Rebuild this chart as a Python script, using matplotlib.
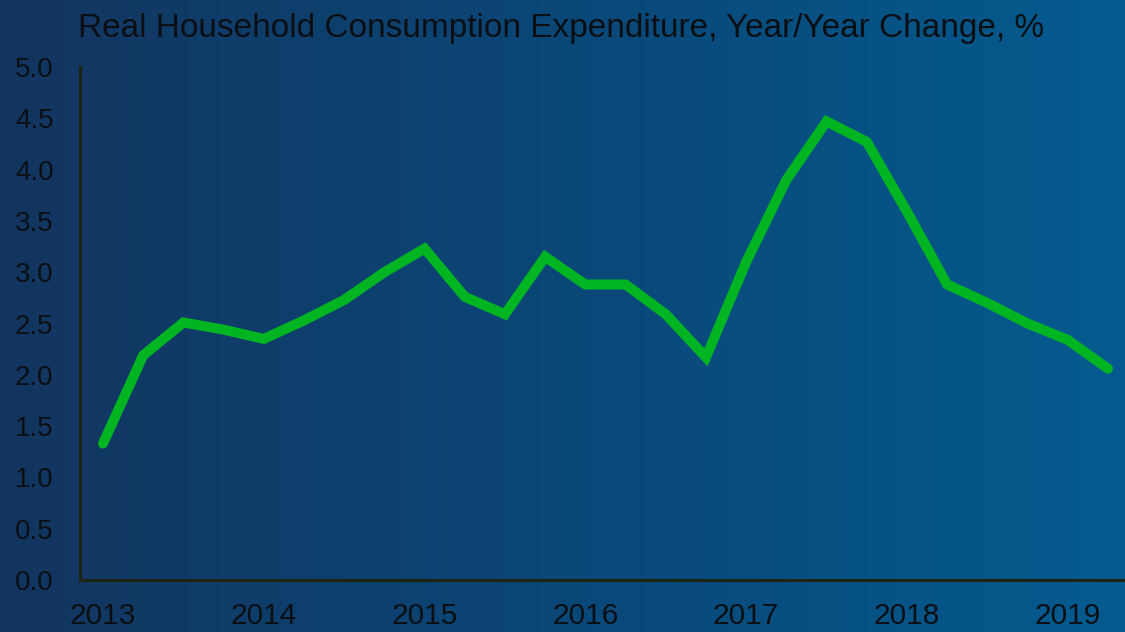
import numpy as np
import pandas as pd
import matplotlib
matplotlib.use("Agg")
import matplotlib.pyplot as plt
from matplotlib.colors import LinearSegmentedColormap

# Quarterly data, 2013Q1 .. 2019Q2
quarters = pd.period_range("2013Q1", "2019Q2", freq="Q")
growth = [1.33, 2.19, 2.51, 2.44, 2.35, 2.53, 2.73, 3.00, 3.23, 2.76, 2.59, 3.15,
          2.88, 2.88, 2.59, 2.17, 3.10, 3.90, 4.47, 4.27, 3.59, 2.88, 2.70, 2.50,
          2.34, 2.06]
year_ticks = [2013, 2014, 2015, 2016, 2017, 2018, 2019]
y_ticks = [0.0, 0.5, 1.0, 1.5, 2.0, 2.5, 3.0, 3.5, 4.0, 4.5, 5.0]
title = "Real Household Consumption Expenditure, Year/Year Change, %"

x = np.array([p.year + (p.quarter - 1) / 4 for p in quarters])

plt.rcParams['font.family'] = ['Liberation Sans', 'DejaVu Sans']
text_col = '#0b0f14'
spine_col = '#1d2512'

fig = plt.figure(figsize=(11.25, 6.32), dpi=100)

# background gradient (left navy -> right blue)
bg = fig.add_axes([0, 0, 1, 1], zorder=0)
cmap = LinearSegmentedColormap.from_list('bg', ['#13355f', '#0a4777', '#045b8f'])
grad = np.linspace(0, 1, 256).reshape(1, -1)
bg.imshow(grad, aspect='auto', cmap=cmap, extent=[0, 1, 0, 1])
bg.set_axis_off()

ax = fig.add_axes([80 / 1125, 52 / 632, 1 - 80 / 1125, 513 / 632], zorder=1)
ax.patch.set_alpha(0)
ax.plot(x, growth, color='#00b521', linewidth=7.2, solid_capstyle='round',
        solid_joinstyle='miter')

ax.set_xlim(2012.857, 2019.356)
ax.set_ylim(0, 5.0)
ax.set_xticks(year_ticks)
ax.set_xticklabels([str(y) for y in year_ticks])
ax.set_yticks(y_ticks)
ax.set_yticklabels([f"{v:.1f}" for v in y_ticks])
ax.tick_params(axis='both', length=0, colors=text_col)
ax.tick_params(axis='y', pad=19, labelsize=20)
ax.tick_params(axis='x', pad=16, labelsize=21.5)
for s in ['top', 'right']:
    ax.spines[s].set_visible(False)
for s in ['left', 'bottom']:
    ax.spines[s].set_color(spine_col)
    ax.spines[s].set_linewidth(2.2)

fig.text(78 / 1125, 1 - 37 / 632, title, fontsize=24, color=text_col,
         ha='left', va='baseline')

fig.savefig('out.png', dpi=100)
